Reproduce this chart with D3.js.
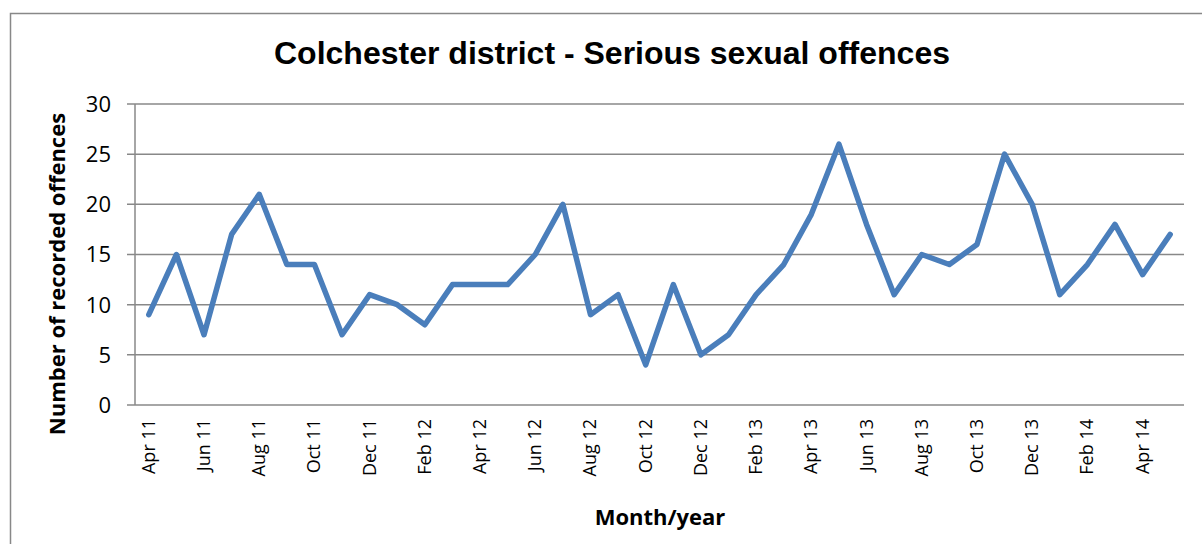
<!DOCTYPE html>
<html><head><meta charset="utf-8">
<script src="https://cdn.jsdelivr.net/npm/d3@7"></script>
<style>body{margin:0;background:#fff}svg{display:block}</style>
</head><body>
<svg id="c" width="1202" height="544"></svg>
<script>
const months = ["Apr 11","May 11","Jun 11","Jul 11","Aug 11","Sep 11","Oct 11","Nov 11","Dec 11","Jan 12","Feb 12","Mar 12","Apr 12","May 12","Jun 12","Jul 12","Aug 12","Sep 12","Oct 12","Nov 12","Dec 12","Jan 13","Feb 13","Mar 13","Apr 13","May 13","Jun 13","Jul 13","Aug 13","Sep 13","Oct 13","Nov 13","Dec 13","Jan 14","Feb 14","Mar 14","Apr 14","May 14"];
const offences = [9,15,7,17,21,14,14,7,11,10,8,12,12,12,15,20,9,11,4,12,5,7,11,14,19,26,18,11,15,14,16,25,20,11,14,18,13,17];
const yTicks = [0,5,10,15,20,25,30];
const title = "Colchester district - Serious sexual offences";
const yTitle = "Number of recorded offences";
const xTitle = "Month/year";

const svg = d3.select("#c");
const L = 135, R = 1184, T = 104, B = 405;

svg.append("rect").attr("x",10.5).attr("y",13.5).attr("width",1250).attr("height",600)
  .attr("fill","#fff").attr("stroke","#888").attr("stroke-width",1.5);

const x = d3.scaleBand().domain(months).range([L,R]);
const y = d3.scaleLinear().domain([0,30]).range([B,T]);

// gridlines
svg.append("g").selectAll("line").data(yTicks).join("line")
  .attr("x1",L-8).attr("x2",R).attr("y1",d=>y(d)).attr("y2",d=>y(d))
  .attr("stroke","#888").attr("stroke-width",1.5);
// y axis line
svg.append("line").attr("x1",L).attr("x2",L).attr("y1",T).attr("y2",B)
  .attr("stroke","#888").attr("stroke-width",1.5);

// y tick labels
svg.append("g").selectAll("text").data(yTicks).join("text")
  .attr("x",L-24).attr("y",d=>y(d)).attr("dy","0.36em").attr("text-anchor","end")
  .attr("font-family","Open Sans").attr("font-size",22).attr("fill","#000").text(d=>d);

// x tick labels (every 2nd)
svg.append("g").selectAll("text").data(months.filter((d,i)=>i%2===0)).join("text")
  .attr("transform",d=>`translate(${x(d)+x.bandwidth()/2+6},${B+14}) rotate(-90)`)
  .attr("text-anchor","end")
  .attr("font-family","Open Sans").attr("font-size",18).attr("fill","#000").text(d=>d);

// line
const line = d3.line().x(d=>x(d[0])+x.bandwidth()/2).y(d=>y(d[1]));
svg.append("path").datum(months.map((m,i)=>[m,offences[i]]))
  .attr("d",line).attr("fill","none").attr("stroke","#4a7ebb")
  .attr("stroke-width",5.5).attr("stroke-linejoin","round").attr("stroke-linecap","round");

// titles
svg.append("text").attr("x",612).attr("y",64).attr("text-anchor","middle")
  .attr("font-family","Liberation Sans").attr("font-weight","bold").attr("font-size",31)
  .attr("textLength",676).attr("lengthAdjust","spacingAndGlyphs")
  .text(title);
svg.append("text").attr("transform",`translate(65,274) rotate(-90)`).attr("text-anchor","middle")
  .attr("font-family","Open Sans").attr("font-weight","bold").attr("font-size",22)
  .text(yTitle);
svg.append("text").attr("x",660).attr("y",525).attr("text-anchor","middle")
  .attr("font-family","Open Sans").attr("font-weight","bold").attr("font-size",22)
  .text(xTitle);
</script>
</body></html>
